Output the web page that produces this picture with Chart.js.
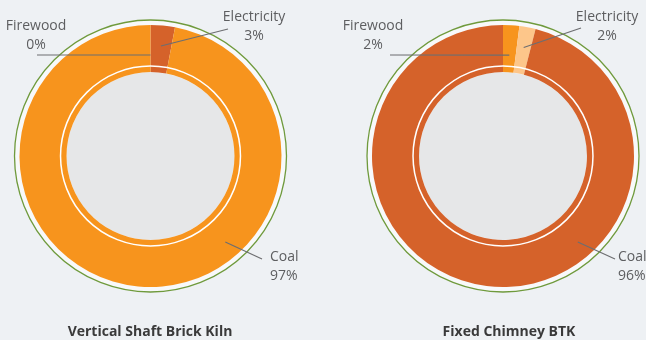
<!DOCTYPE html>
<html>
<head>
<meta charset="utf-8">
<script src="https://cdn.jsdelivr.net/npm/chart.js@4.4.1/dist/chart.umd.min.js"></script>
<style>
  html, body { margin: 0; padding: 0; }
  body { width: 646px; height: 340px; background: #eef1f4; position: relative; overflow: hidden; }
  canvas { position: absolute; left: 0; top: 0; }
</style>
</head>
<body>
<canvas id="chartVsbk" width="646" height="340"></canvas>
<canvas id="chartFcbtk" width="646" height="340"></canvas>
<script>
// Energy share by fuel for two kiln technologies, drawn as two doughnuts
// laid over each other on full-size canvases so positions are page coords.
var categories = ['Firewood', 'Electricity', 'Coal'];
var vsbkValues = [0, 3, 97];
var fcbtkValues = [2, 2, 96];
var chartTitles = ['Vertical Shaft Brick Kiln', 'Fixed Chimney BTK'];

var ORANGE = '#f7941d';
var RUST = '#d5622a';
var PEACH = '#fdc68a';
var CENTER_GRAY = '#e6e7e8';
var DISC_WHITE = '#f8f9fa';
var RING_GREEN = '#6f9a3c';
var LABEL_COLOR = '#5d5e60';
var LEADER_COLOR = '#6d6e71';
var TITLE_COLOR = '#3a3a3a';
var FONT = "'Open Sans', sans-serif";

// label layout: text anchor, leader end, and where on the ring the leader starts
// (angle in degrees from 12 o'clock; null = middle of the slice)
var vsbkLabels = [
  { x: 36, y: 26, align: 'center', lineTo: [37, 55], r: 101, angle: null },
  { x: 254, y: 17, align: 'center', lineTo: [228, 29], r: 110.5, angle: null },
  { x: 270, y: 257, align: 'left', lineTo: [262, 259], r: 114, angle: 139 }
];
var fcbtkLabels = [
  { x: 373, y: 26, align: 'center', lineTo: [390, 55], r: 101, angle: null },
  { x: 607, y: 17, align: 'center', lineTo: [581, 28], r: 110.5, angle: null },
  { x: 618, y: 257, align: 'left', lineTo: [615, 259], r: 114, angle: 139 }
];

var decor = {
  id: 'decor',
  beforeDatasetsDraw: function (chart) {
    var arc = chart.getDatasetMeta(0).data[0];
    var ctx = chart.ctx;
    ctx.save();
    ctx.fillStyle = DISC_WHITE;
    ctx.beginPath();
    ctx.arc(arc.x, arc.y, arc.outerRadius + 5, 0, Math.PI * 2);
    ctx.fill();
    ctx.fillStyle = CENTER_GRAY;
    ctx.beginPath();
    ctx.arc(arc.x, arc.y, arc.innerRadius, 0, Math.PI * 2);
    ctx.fill();
    ctx.restore();
  },
  afterDatasetsDraw: function (chart, args, opts) {
    var meta = chart.getDatasetMeta(0);
    var arc0 = meta.data[0];
    var cx = arc0.x, cy = arc0.y;
    var ctx = chart.ctx;
    ctx.save();
    // thin white ring just inside the slices
    ctx.strokeStyle = '#ffffff';
    ctx.lineWidth = 1.5;
    ctx.beginPath();
    ctx.arc(cx, cy, arc0.innerRadius + 6, 0, Math.PI * 2);
    ctx.stroke();
    // green outline outside
    ctx.strokeStyle = RING_GREEN;
    ctx.lineWidth = 1.3;
    ctx.beginPath();
    ctx.arc(cx, cy, arc0.outerRadius + 5, 0, Math.PI * 2);
    ctx.stroke();

    var values = chart.data.datasets[0].data;
    ctx.font = '14px ' + FONT;
    ctx.textBaseline = 'middle';
    opts.labels.forEach(function (lab, i) {
      var a = meta.data[i];
      var ang = lab.angle === null ? (a.startAngle + a.endAngle) / 2 : (lab.angle - 90) * Math.PI / 180;
      var ax = cx + Math.cos(ang) * lab.r;
      var ay = cy + Math.sin(ang) * lab.r;
      ctx.strokeStyle = LEADER_COLOR;
      ctx.lineWidth = 1.2;
      ctx.beginPath();
      ctx.moveTo(ax, ay);
      ctx.lineTo(lab.lineTo[0], lab.lineTo[1]);
      ctx.stroke();
      ctx.fillStyle = LABEL_COLOR;
      ctx.textAlign = lab.align;
      ctx.fillText(chart.data.labels[i], lab.x, lab.y);
      ctx.fillText(values[i] + '%', lab.x, lab.y + 19);
    });

    ctx.font = 'bold 14px ' + FONT;
    ctx.fillStyle = TITLE_COLOR;
    ctx.textAlign = 'center';
    ctx.fillText(opts.title, cx + opts.titleShift, 332);
    ctx.restore();
  }
};

function kilnDoughnut(canvasId, values, colors, padding, labels, title, titleShift) {
  var el = document.getElementById(canvasId);
  // eslint-disable-next-line no-new
  new Chart(el, {
    type: 'doughnut',
    data: {
      labels: categories,
      datasets: [{ data: values, backgroundColor: colors, borderWidth: 0 }]
    },
    options: {
      responsive: false,
      animation: false,
      events: [],
      cutout: '64.1%',
      layout: { padding: padding },
      plugins: {
        legend: { display: false },
        tooltip: { enabled: false },
        decor: { labels: labels, title: title, titleShift: titleShift }
      }
    },
    plugins: [decor]
  });
}

kilnDoughnut('chartVsbk', vsbkValues, [ORANGE, RUST, ORANGE],
  { left: 19.5, right: 364.5, top: 25, bottom: 53 }, vsbkLabels, chartTitles[0], -0.5);
kilnDoughnut('chartFcbtk', fcbtkValues, [ORANGE, PEACH, RUST],
  { left: 372, right: 12, top: 25, bottom: 53 }, fcbtkLabels, chartTitles[1], 6);
</script>
</body>
</html>
